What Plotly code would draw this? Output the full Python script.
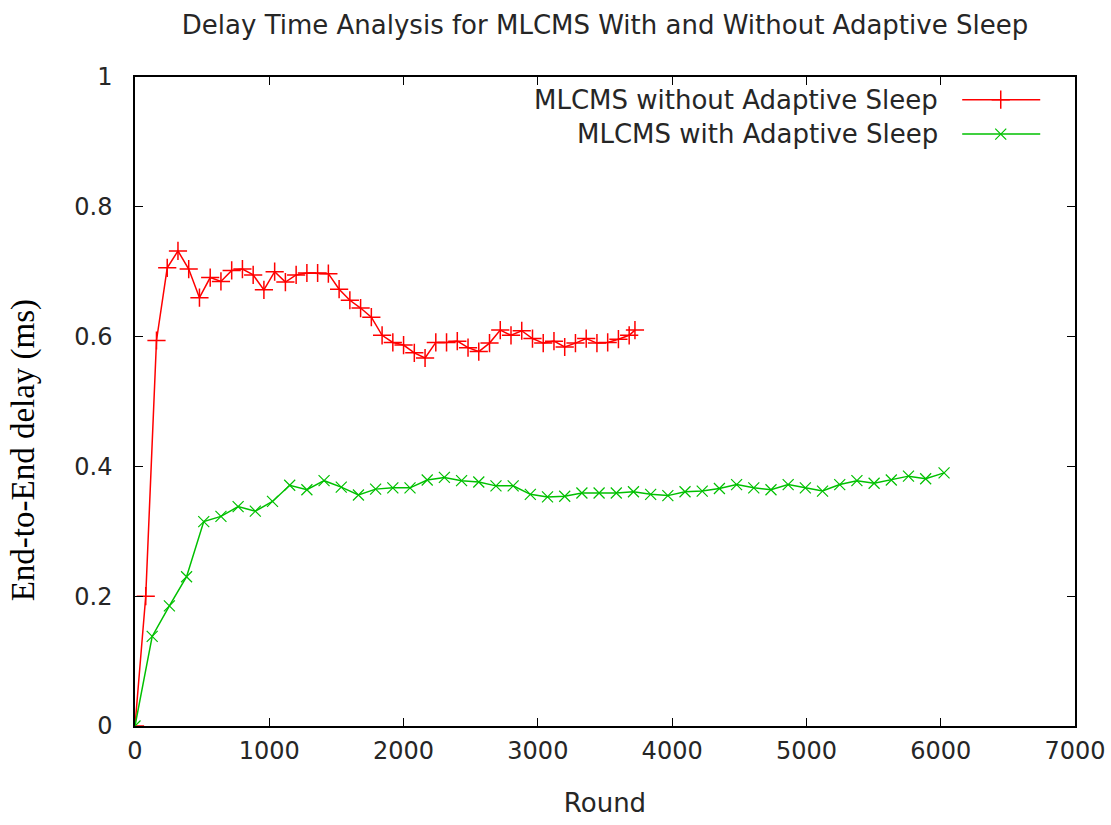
import plotly.graph_objects as go

# Rounds at which each variant was sampled
rounds_without = [0, 80, 160, 240, 320, 400, 480, 560, 640, 720, 800, 880, 960, 1040,
                  1120, 1200, 1280, 1360, 1440, 1520, 1600, 1680, 1760, 1840, 1920,
                  2000, 2080, 2160, 2240, 2320, 2400, 2480, 2560, 2640, 2720, 2800,
                  2880, 2960, 3040, 3120, 3200, 3280, 3360, 3440, 3520, 3600, 3680, 3723]
delay_without = [0, 0.200, 0.594, 0.706, 0.732, 0.704, 0.660, 0.691, 0.685, 0.702,
                 0.704, 0.695, 0.672, 0.700, 0.684, 0.695, 0.698, 0.698, 0.697, 0.673,
                 0.656, 0.644, 0.630, 0.602, 0.591, 0.587, 0.575, 0.567, 0.591, 0.591,
                 0.593, 0.583, 0.577, 0.590, 0.610, 0.602, 0.609, 0.597, 0.590, 0.593,
                 0.584, 0.590, 0.597, 0.590, 0.591, 0.596, 0.602, 0.610]

rounds_with = [0, 128, 256, 384, 512, 640, 768, 896, 1024, 1152, 1280, 1408, 1536,
               1664, 1792, 1920, 2048, 2176, 2304, 2432, 2560, 2688, 2816, 2944, 3072,
               3200, 3328, 3456, 3584, 3712, 3840, 3968, 4096, 4224, 4352, 4480, 4608,
               4736, 4864, 4992, 5120, 5248, 5376, 5504, 5632, 5760, 5888, 6025]
delay_with = [0, 0.138, 0.185, 0.230, 0.315, 0.323, 0.338, 0.331, 0.346, 0.371, 0.364,
              0.378, 0.368, 0.356, 0.365, 0.367, 0.367, 0.379, 0.383, 0.378, 0.376,
              0.370, 0.370, 0.357, 0.353, 0.354, 0.359, 0.359, 0.359, 0.361, 0.357,
              0.355, 0.361, 0.362, 0.366, 0.372, 0.367, 0.364, 0.372, 0.367, 0.362,
              0.372, 0.378, 0.374, 0.379, 0.385, 0.381, 0.390]

series_names = ["MLCMS without Adaptive Sleep", "MLCMS with Adaptive Sleep"]
RED = "#ff0000"
GREEN = "#00c000"
SANS = "DejaVu Sans"
TEXT = "#262626"

fig = go.Figure()
fig.add_trace(go.Scatter(
    x=rounds_without, y=delay_without, mode="lines+markers", name=series_names[0],
    line=dict(color=RED, width=1.5),
    marker=dict(symbol="cross-thin", size=13, line=dict(color=RED, width=1.5)),
    showlegend=False))
fig.add_trace(go.Scatter(
    x=rounds_with, y=delay_with, mode="lines+markers", name=series_names[1],
    line=dict(color=GREEN, width=1.5),
    marker=dict(symbol="x-thin", size=11, line=dict(color=GREEN, width=1.2)),
    showlegend=False))

# Key in the top-right corner: label on the left, line sample on the right
key_rows = [0.965, 0.912]
key_styles = [("cross-thin", 13, RED, 1.5), ("x-thin", 11, GREEN, 1.2)]
for name, ky, (sym, sz, col, lw) in zip(series_names, key_rows, key_styles):
    fig.add_trace(go.Scatter(
        x=[0.880, 0.921, 0.963], y=[ky, ky, ky], xaxis="x2", yaxis="y2",
        mode="lines", line=dict(color=col, width=1.5), hoverinfo="skip",
        showlegend=False))
    fig.add_trace(go.Scatter(
        x=[0.921], y=[ky], xaxis="x2", yaxis="y2", mode="markers",
        marker=dict(symbol=sym, size=sz, line=dict(color=col, width=lw)),
        hoverinfo="skip", showlegend=False))
    fig.add_annotation(x=0.856, y=ky, xref="x2 domain", yref="y2", text=name,
                       showarrow=False, xanchor="right", yanchor="middle",
                       font=dict(family=SANS, size=26, color=TEXT))

# Vertical axis caption, set in a serif face and sitting a little below centre
fig.add_annotation(x=-0.119, y=0.425, xref="paper", yref="paper",
                   text="End-to-End delay (ms)", textangle=-90, showarrow=False,
                   xanchor="center", yanchor="middle",
                   font=dict(family="Liberation Serif", size=33, color="#000000"))

axis_common = dict(showline=True, linecolor="#000000", linewidth=1.5, mirror="ticks",
                   ticks="inside", ticklen=8, tickcolor="#000000", tickwidth=1,
                   showgrid=False, zeroline=False, automargin=False,
                   tickfont=dict(family=SANS, size=24, color=TEXT))

fig.update_layout(
    width=1111, height=825,
    margin=dict(l=135, r=36, t=77, b=99),
    paper_bgcolor="white", plot_bgcolor="white",
    title=dict(text="Delay Time Analysis for MLCMS With and Without Adaptive Sleep",
               xref="paper", x=0.5, xanchor="center", y=0.97, yanchor="middle",
               font=dict(family=SANS, size=26, color=TEXT)),
    xaxis=dict(range=[0, 7000], tickvals=[0, 1000, 2000, 3000, 4000, 5000, 6000, 7000],
               ticklabelstandoff=2,
               title=dict(text="Round", standoff=30,
                          font=dict(family=SANS, size=26, color=TEXT)),
               **axis_common),
    yaxis=dict(range=[0, 1], tickvals=[0, 0.2, 0.4, 0.6, 0.8, 1],
               ticktext=["0", "0.2", "0.4", "0.6", "0.8", "1"],
               ticklabelstandoff=16,
               **axis_common),
    xaxis2=dict(domain=[0, 1], range=[0, 1], visible=False, overlaying="x"),
    yaxis2=dict(domain=[0, 1], range=[0, 1], visible=False, overlaying="y"),
)

fig.write_html("out.html")
